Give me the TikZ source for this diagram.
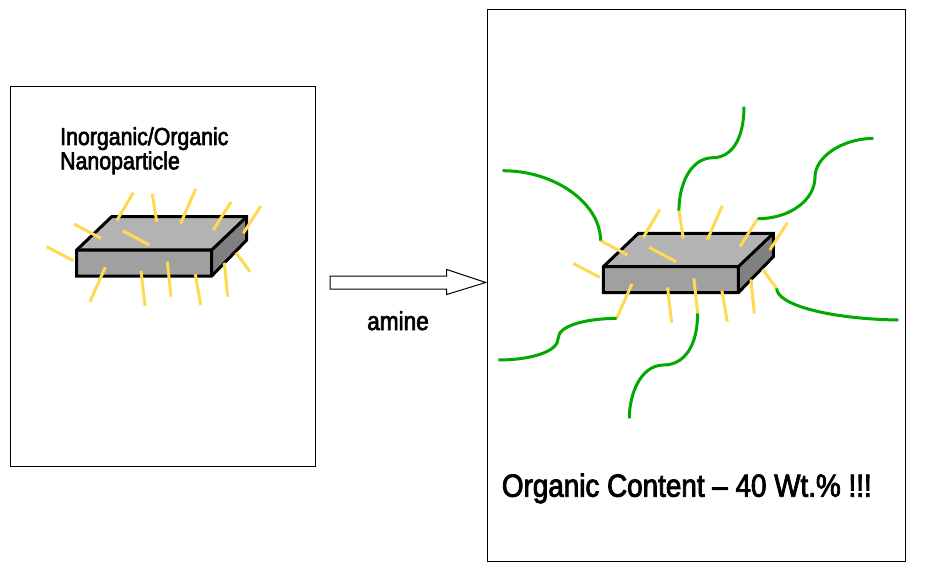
\documentclass[tikz,border=0pt]{standalone}
\usepackage{fontspec}
\setmainfont{Liberation Sans}[FakeStretch=0.87, FakeBold=2.6]
\usetikzlibrary{calc}

\definecolor{ligand}{RGB}{255,218,80}
\definecolor{chain}{RGB}{0,170,0}
\definecolor{topgray}{RGB}{179,179,179}
\definecolor{frontgray}{RGB}{160,160,160}
\definecolor{sidegray}{RGB}{128,128,128}

\tikzset{
  panel/.style={draw=black, line width=1pt, fill=white, inner sep=0pt},
  ligandline/.style={draw=ligand, line width=3pt},
  chainline/.style={draw=chain, line width=3pt},
  face/.style={draw=black, line width=3pt, line join=miter},
  label/.style={inner sep=0pt, anchor=base west, text=black},
  reaction/.style={draw=black, line width=1pt, fill=white},
  % slab-shaped nanoparticle with short surface ligands;
  % -o<n> is the outer end of ligand n, -i<n> its inner end
  particle/.pic={
    \fill[frontgray] (0,0) -- (135,0) -- (135,26) -- (0,26) -- cycle;
    \fill[sidegray] (135,0) -- (170,-33.3) -- (170,-10) -- (135,26) -- cycle;
    \fill[topgray] (0,0) -- (35,-33.3) -- (170,-33.3) -- (135,0) -- cycle;
    \draw[face] (0,0) -- (35,-33.3) -- (170,-33.3) -- (170,-10)
                -- (135,26) -- (0,26) -- cycle;
    \draw[face] (0,0) -- (135,0) -- (170,-33.3) (135,0) -- (135,26);
    \foreach \n/\ox/\oy/\ix/\iy in {
        1/56.6/-57.3/40/-29.3,
        2/75.6/-56/80/-28.3,
        3/119/-61/104/-26.7,
        4/154.3/-48/136.6/-20,
        5/184/-44/166.6/-16.7,
        6/-2.7/-26/24.3/-11.7,
        7/46/-19.3/72.6/-5,
        8/-30/-3.3/-3.4/10.7,
        9/13.3/51.7/28.6/17.3,
        10/68.3/56/64.3/20.7,
        11/94.3/46.7/90.6/11.7,
        12/124/55/118.6/24,
        13/151/46.7/147.6/12.7,
        14/173.3/21.7/159.3/2.7}{
      \coordinate (-o\n) at (\ox,\oy);
      \coordinate (-i\n) at (\ix,\iy);
      \draw[ligandline] (-o\n) -- (-i\n);
    }
  }
}

\begin{document}
\begin{tikzpicture}[x=1pt, y=-1pt]
  \useasboundingbox (0,0) rectangle (930,575);

  % the two panels
  \node[panel, minimum width=305pt, minimum height=379pt] (before) at (162.5,276.5) {};
  \node[panel, minimum width=418pt, minimum height=551pt] (after) at (696,285.5) {};

  % left panel: bare particle
  \node[label, font=\fontsize{24.5}{24}\selectfont] (title1) at (60,145) {Inorganic/Organic};
  \node[label, font=\fontsize{24.5}{24}\selectfont] (title2) at (60,169.3) {Nanoparticle};
  \pic (left) at (76.7,250) {particle};

  % reaction arrow
  \coordinate (arrowtail) at (330,282.5);
  \coordinate (arrowtip) at (485.7,282.5);
  \draw[reaction] ($(arrowtail)+(0,-6.5)$) -- ($(arrowtip)+(-39,-6.5)$)
    -- ($(arrowtip)+(-39,-13)$) -- (arrowtip) -- ($(arrowtip)+(-39,12)$)
    -- ($(arrowtip)+(-39,6.5)$) -- ($(arrowtail)+(0,6.5)$) -- cycle;
  \node[anchor=base, inner sep=0pt, font=\fontsize{26}{26}\selectfont] (reagent) at (398,330) {amine};

  % right panel: particle with grafted polymer chains
  \pic (right) at (603.3,266.7) {particle};

  \coordinate (end1) at (502.7,170.7);
  \coordinate (end2) at (744,106.7);
  \coordinate (end3) at (873.3,138.3);
  \coordinate (end4) at (898.3,320);
  \coordinate (end5) at (498.3,360);
  \coordinate (end6) at (629.3,418.3);

  \draw[chainline] (end1) .. controls (556,170.7) and (600.6,204) .. (right-o6);
  \draw[chainline] (end2) .. controls (744,140) and (731,157.7) .. (713,157.7)
                          .. controls (690,158) and (679,185) .. (right-o2);
  \draw[chainline] (end3) .. controls (840,139) and (815,158) .. (815,177)
                          .. controls (815,200) and (790,218.7) .. (right-o4);
  \draw[chainline] (right-o14) .. controls (777,305) and (830,319) .. (end4);
  \draw[chainline] (right-o9) .. controls (585,318.5) and (558.3,326) .. (558.3,338)
                          .. controls (558.3,352) and (530,360) .. (end5);
  \draw[chainline] (right-o11) .. controls (697.6,345) and (685,365) .. (663.3,365)
                          .. controls (640,365.5) and (629.3,395) .. (end6);

  \node[label, font=\fontsize{32}{32}\selectfont] (content) at (501.7,496.7)
    {Organic Content – 40 Wt.\% !!!};
\end{tikzpicture}
\end{document}
